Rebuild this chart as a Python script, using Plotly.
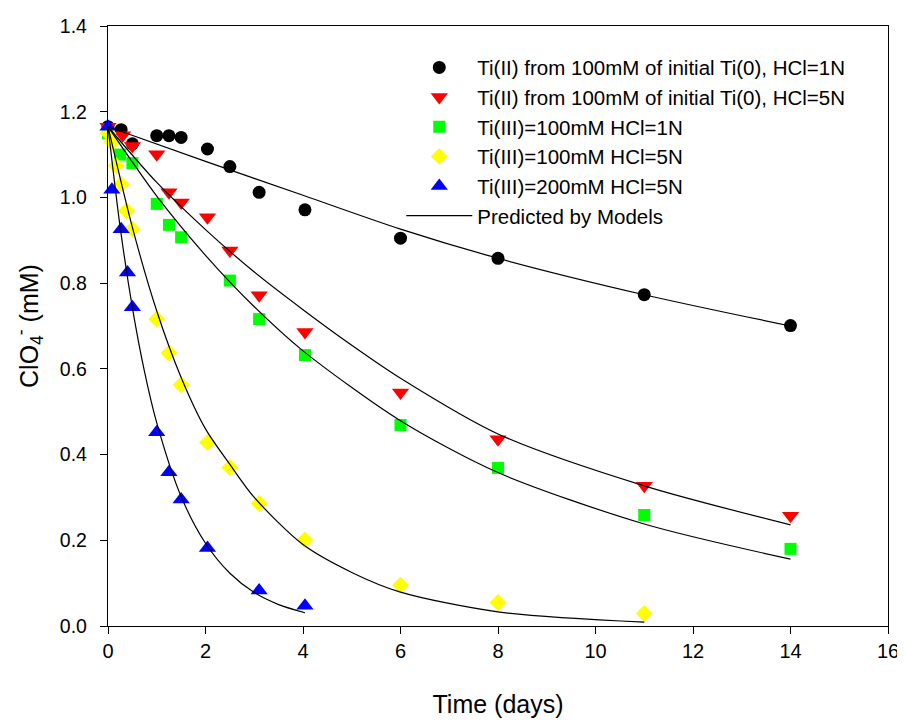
import plotly.graph_objects as go

t_black = [0, 0.27, 0.5, 1.0, 1.25, 1.5, 2.04, 2.5, 3.1, 4.04, 6, 8, 11, 14]
y_black = [1.165, 1.158, 1.125, 1.144, 1.144, 1.140, 1.113, 1.072, 1.012, 0.971, 0.905, 0.858, 0.773, 0.701]

t_red = [0, 0.3, 0.5, 1.0, 1.25, 1.5, 2.04, 2.5, 3.1, 4.04, 6, 8, 11, 14]
y_red = [1.165, 1.145, 1.12, 1.101, 1.012, 0.988, 0.954, 0.876, 0.772, 0.686, 0.545, 0.436, 0.327, 0.257]

t_green = [0, 0.25, 0.5, 1.0, 1.25, 1.5, 2.5, 3.1, 4.04, 6, 8, 11, 14]
y_green = [1.15, 1.10, 1.08, 0.985, 0.936, 0.907, 0.806, 0.716, 0.632, 0.469, 0.369, 0.259, 0.180]

t_yellow = [0, 0.08, 0.17, 0.27, 0.38, 0.5, 1.0, 1.25, 1.5, 2.04, 2.5, 3.1, 4.04, 6, 8, 11]
y_yellow = [1.15, 1.128, 1.074, 1.031, 0.969, 0.926, 0.716, 0.637, 0.563, 0.428, 0.370, 0.286, 0.201, 0.095, 0.055, 0.029]

t_blue = [0, 0.08, 0.27, 0.4, 0.5, 1.0, 1.25, 1.5, 2.04, 3.1, 4.04]
y_blue = [1.165, 1.018, 0.926, 0.825, 0.744, 0.452, 0.359, 0.295, 0.182, 0.083, 0.047]

# ---- model curves ----
tm_black = [0, 2, 4, 6, 8, 11, 14]
ym_black = [1.165, 1.084, 1.005, 0.926, 0.858, 0.773, 0.700]

tm_red = [0, 1, 2, 3, 4, 5, 6, 8, 11, 14]
ym_red = [1.165, 1.035, 0.925, 0.826, 0.738, 0.655, 0.578, 0.448, 0.327, 0.236]

tm_green = [0, 1, 2, 3, 4, 6, 8, 11, 14]
ym_green = [1.165, 1.003, 0.865, 0.745, 0.642, 0.479, 0.358, 0.238, 0.156]

tm_yellow = [0, 0.5, 1, 1.5, 2, 2.5, 3, 4, 5, 6, 8, 11]
ym_yellow = [1.165, 0.93, 0.735, 0.58, 0.46, 0.377, 0.30, 0.19, 0.125, 0.079, 0.033, 0.009]

tm_blue = [0, 0.25, 0.5, 0.75, 1, 1.5, 2, 2.5, 3, 3.5, 4.04]
ym_blue = [1.165, 0.93, 0.743, 0.593, 0.474, 0.302, 0.193, 0.123, 0.078, 0.05, 0.031]

names = [
    "Ti(II) from 100mM of initial Ti(0), HCl=1N",
    "Ti(II) from 100mM of initial Ti(0), HCl=5N",
    "Ti(III)=100mM HCl=1N",
    "Ti(III)=100mM HCl=5N",
    "Ti(III)=200mM HCl=5N",
]
model_name = "Predicted by Models"

x_ticks = [0, 2, 4, 6, 8, 10, 12, 14, 16]
y_ticks = [0.0, 0.2, 0.4, 0.6, 0.8, 1.0, 1.2, 1.4]

fig = go.Figure()

series = [
    (t_black, y_black, "circle", "#000000", 13),
    (t_red, y_red, "triangle-down", "#ff0000", 15),
    (t_green, y_green, "square", "#00ff00", 12),
    (t_yellow, y_yellow, "diamond", "#ffff00", 13),
    (t_blue, y_blue, "triangle-up", "#0000ff", 15),
]
for i, (tx, ty, sym, col, sz) in enumerate(series):
    fig.add_trace(go.Scatter(
        x=tx, y=ty, mode="markers", name=names[i],
        marker=dict(symbol=sym, color=col, size=sz, line=dict(width=0)),
        cliponaxis=False,
    ))

models = [(tm_black, ym_black), (tm_red, ym_red), (tm_green, ym_green),
          (tm_yellow, ym_yellow), (tm_blue, ym_blue)]
for i, (tx, ty) in enumerate(models):
    fig.add_trace(go.Scatter(
        x=tx, y=ty, mode="lines", name=model_name,
        line=dict(color="black", width=1.2, shape="spline", smoothing=0.8),
        showlegend=(i == 0),
    ))

axis_common = dict(
    showline=True, linecolor="black", linewidth=1.3,
    ticks="outside", ticklen=7, tickcolor="black", tickwidth=1.3,
    showgrid=False, zeroline=False, mirror=True, automargin=False,
)

# page body has an 8px margin, so the figure is 8px smaller in each direction
fig.update_layout(
    width=897, height=716,
    margin=dict(l=100, r=17, t=18, b=98),
    paper_bgcolor="white", plot_bgcolor="white",
    font=dict(family="Liberation Sans, Arial, sans-serif", size=20, color="black"),
    xaxis=dict(range=[0, 16], tickvals=x_ticks, ticktext=[str(v) for v in x_ticks],
               title=dict(text="Time (days)", font=dict(size=25), standoff=34),
               tickfont=dict(size=20), ticklabelstandoff=0,
               **axis_common),
    yaxis=dict(range=[0, 1.4], tickvals=y_ticks, ticktext=[f"{v:.1f}" for v in y_ticks],
               title=dict(text="ClO<sub>4</sub><sup>-</sup> (mM)", font=dict(size=25), standoff=14),
               tickfont=dict(size=19.5), ticklabelstandoff=9,
               **axis_common),
    showlegend=True,
    legend=dict(x=0.376, y=0.964, xanchor="left", yanchor="top",
                bgcolor="rgba(0,0,0,0)", font=dict(size=20.5),
                traceorder="normal", itemwidth=66),
)

fig.write_html("out.html")
